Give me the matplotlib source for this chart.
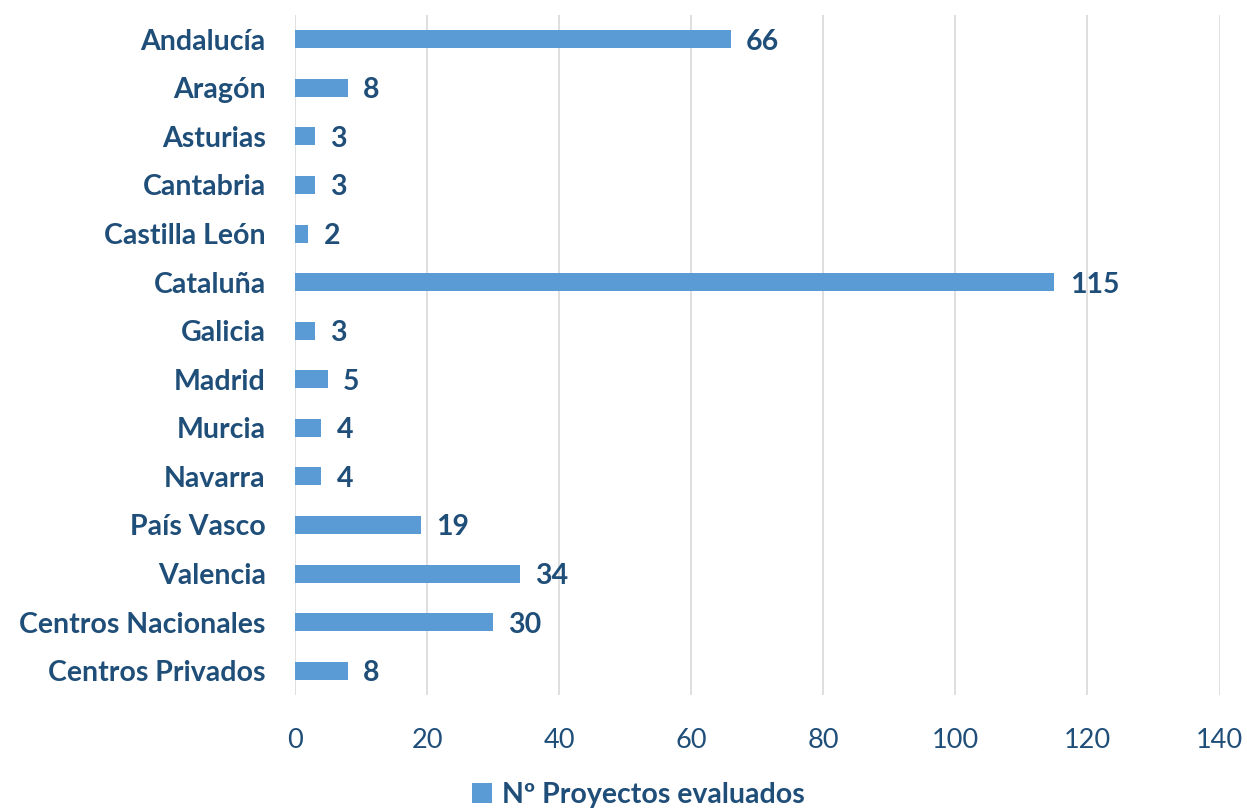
import matplotlib
matplotlib.use("Agg")
import matplotlib.pyplot as plt
from matplotlib.patches import Patch

categories = ["Andalucía", "Aragón", "Asturias", "Cantabria", "Castilla León", "Cataluña",
              "Galicia", "Madrid", "Murcia", "Navarra", "País Vasco", "Valencia",
              "Centros Nacionales", "Centros Privados"]
values = [66, 8, 3, 3, 2, 115, 3, 5, 4, 4, 19, 34, 30, 8]
xticks = [0, 20, 40, 60, 80, 100, 120, 140]
series_name = "Nº Proyectos evaluados"

bar_color = "#5B9BD5"
text_color = "#1F4E79"
plt.rcParams['font.family'] = ['Lato', 'DejaVu Sans']

fig = plt.figure(figsize=(12.47, 8.10), dpi=100)
ax = fig.add_axes([0.2366, 0.142, 0.978 - 0.2366, 0.9815 - 0.142])

y = list(range(len(categories)))
ax.barh(y, values, height=0.37, color=bar_color, zorder=3)
for yi, v in zip(y, values):
    ax.text(v + 2.3, yi + 0.05, str(v), va='center', ha='left', fontsize=20.5, fontweight='bold',
            color=text_color)

ax.set_xlim(0, 140)
ax.set_ylim(len(categories) - 0.5, -0.5)
ax.set_xticks(xticks)
ax.set_xticklabels([str(t) for t in xticks], fontsize=19.5, color=text_color)
ax.set_yticks(y)
ax.set_yticklabels(categories, fontsize=20.5, fontweight='bold', color=text_color)
ax.tick_params(axis='x', length=0, pad=24)
ax.tick_params(axis='y', length=0, pad=21)
ax.grid(axis='x', color='#D9D9D9', linewidth=1.2, zorder=0)
for s in ax.spines.values():
    s.set_visible(False)

handle = Patch(facecolor=bar_color, edgecolor='none')
leg = fig.legend([handle], [series_name], loc='center', bbox_to_anchor=(0.512, 0.018),
                 frameon=False, handlelength=0.7, handleheight=0.7, handletextpad=0.35,
                 prop={'size': 20.5, 'weight': 'bold'})
for t in leg.get_texts():
    t.set_color(text_color)

fig.savefig("out.png", dpi=100)
